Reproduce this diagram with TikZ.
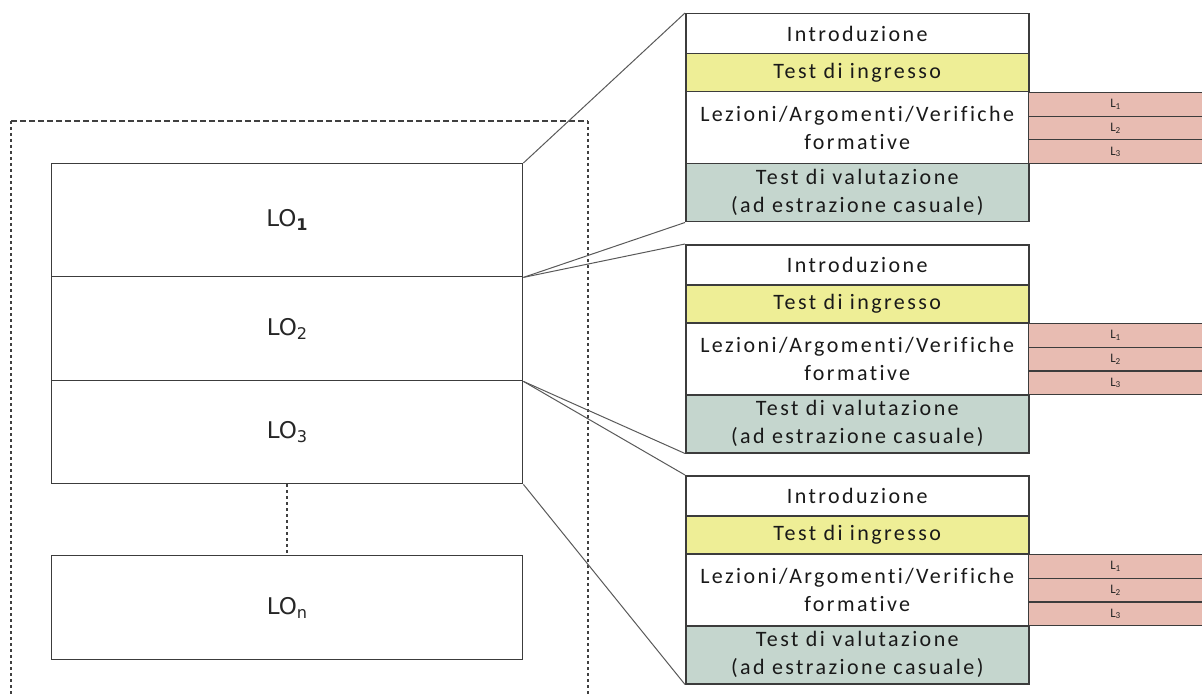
\documentclass[tikz,border=0pt]{standalone}
\usepackage{fontspec}
\setmainfont{Carlito}
\newfontfamily\lofont{DejaVu Sans}
\usetikzlibrary{positioning}

\definecolor{ingresso}{RGB}{238,238,150}
\definecolor{valutaz}{RGB}{197,214,206}
\definecolor{lezbox}{RGB}{232,188,178}
\definecolor{edge}{RGB}{60,60,60}

\tikzset{
  lobox/.style={draw=edge, line width=1.4pt, minimum width=471pt, inner sep=0pt,
    anchor=north west, text=black!85, font=\lofont\fontsize{23}{28}\selectfont},
  rowbox/.style={draw=edge, line width=1.5pt, minimum width=343pt, inner sep=0pt,
    anchor=north west, align=center, text=black!90,
    font=\fontsize{22}{28}\selectfont\addfontfeature{LetterSpace=11,Ligatures=NoCommon}},
  lrow/.style={draw=edge, fill=lezbox, line width=1.1pt, minimum width=174pt,
    minimum height=23.7pt, inner sep=0pt, anchor=north west, text=black!85,
    font=\fontsize{13}{13}\selectfont},
  link/.style={draw=black!65, line width=1pt},
  frame/.style={draw=black!75, line width=2pt}
}

\begin{document}
\begin{tikzpicture}[x=1pt, y=-1pt]
    \useasboundingbox (0,0) rectangle (1202,695);

    % Dashed frame round the LOs
    \draw[frame, dash pattern=on 6pt off 3pt] (11,121) -- (588,121);
    \draw[frame, dash pattern=on 3pt off 3pt] (11,121) -- (11,700);
    \draw[frame, dash pattern=on 3pt off 3pt] (588,121) -- (588,700);

    % LO stack
    \node[lobox, minimum height=113pt] (lo1) at (51,163) {LO\textsubscript{\textbf{1}}};
    \node[lobox, minimum height=104pt] (lo2) at (51,276) {LO\textsubscript{2}};
    \node[lobox, minimum height=103pt] (lo3) at (51,380) {LO\textsubscript{3}};
    \node[lobox, minimum height=104pt] (lon) at (51,555) {LO\textsubscript{n}};
    \draw[frame, dash pattern=on 3pt off 3pt] (lo3.south) -- (lon.north);

    % Panels
    \foreach \p/\y in {1/13, 2/244, 3/475} {
        \node[rowbox, minimum height=40pt] (intro\p) at (685,\y) {Introduzione};
        \node[rowbox, fill=ingresso, minimum height=38pt] (ingr\p) at (685,\y+40) {Test di ingresso};
        \node[rowbox, minimum height=72pt] (lez\p) at (685,\y+78) {Lezioni/Argomenti/Verifiche\\formative};
        \node[rowbox, fill=valutaz, minimum height=58pt] (val\p) at (685,\y+150) {Test di valutazione\\(ad estrazione casuale)};
        \foreach \k in {1,2,3} {
            \node[lrow] (l\p\k) at (1028,\y+79+23.7*\k-23.7) {L\textsubscript{\k}};
        }
    }

    % Connectors
    \draw[link] (lo1.north east) -- (intro1.north west);
    \draw[link] (lo1.south east) -- (val1.south west);
    \draw[link] (lo1.south east) -- (intro2.north west);
    \draw[link] (lo2.south east) -- (val2.south west);
    \draw[link] (lo2.south east) -- (intro3.north west);
    \draw[link] (lo3.south east) -- (val3.south west);
\end{tikzpicture}
\end{document}
